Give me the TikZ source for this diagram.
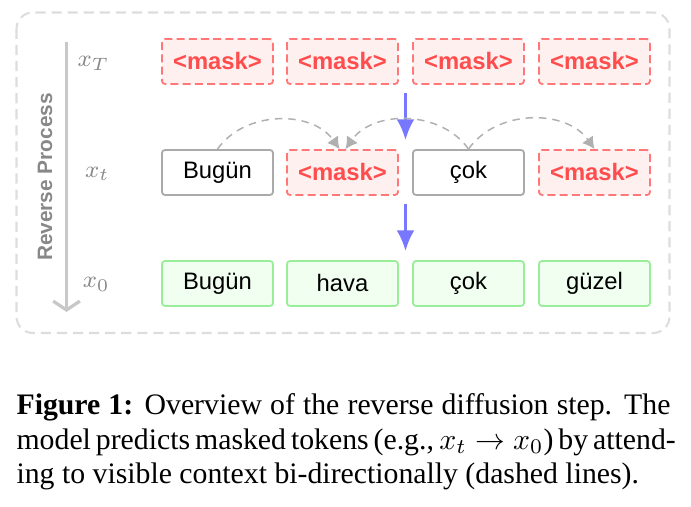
\documentclass[tikz,border=0pt]{standalone}
\usepackage{fontspec}
\setmainfont{Liberation Serif}
\setsansfont{Liberation Sans}
\usetikzlibrary{arrows.meta,calc}
\definecolor{MaskRed}{HTML}{FF4D4D}
\definecolor{MaskEdge}{HTML}{FF7777}
\definecolor{MaskFill}{HTML}{FFF0F0}
\definecolor{KeepEdge}{HTML}{AAAAAA}
\definecolor{DoneEdge}{HTML}{99EE99}
\definecolor{DoneFill}{HTML}{F0FFF0}
\definecolor{StepBlue}{HTML}{7777FF}
\definecolor{Attend}{HTML}{B0B0B0}
\definecolor{FrameGray}{HTML}{DDDDDD}
\definecolor{AxisGray}{HTML}{C8C8C8}
\definecolor{LabelGray}{HTML}{888888}

\begin{document}
\begin{tikzpicture}[x=0.336pt,y=-0.336pt,
  tok/.style={rounded corners=1pt,line width=0.6pt,minimum width=37.3pt,minimum height=15.1pt,inner sep=0pt,font=\sffamily\fontsize{8}{9.6}\selectfont},
  masktok/.style={tok,draw=MaskEdge,fill=MaskFill,dash pattern=on 2.7pt off 1.4pt,text=MaskRed,font=\sffamily\bfseries\fontsize{8}{9.6}\selectfont},
  keeptok/.style={tok,draw=KeepEdge,fill=white},
  donetok/.style={tok,draw=DoneEdge,fill=DoneFill},
  steplbl/.style={anchor=east,inner sep=0pt,text=LabelGray,font=\fontsize{8}{9.6}\selectfont},
  flow/.style={StepBlue,line width=1pt,-{Latex[length=7pt,width=6pt]},shorten <=2.7pt,shorten >=3pt},
  attend/.style={Attend,dash pattern=on 2.5pt off 2pt,line width=0.5pt,-{Latex[length=4pt,width=4.5pt]},bend left=55}
]
  \useasboundingbox (0,0) rectangle (691,507);
  \draw[FrameGray,line width=0.7pt,dash pattern=on 3.4pt off 2pt,rounded corners=5.5pt] (16.5,12.5) rectangle (669.5,333);
  % time axis
  \draw[AxisGray,line width=1.1pt,-{Straight Barb[length=3pt,width=9pt]}] (66.5,42) -- (66.5,312);
  \node[rotate=90,text=LabelGray,font=\sffamily\bfseries\fontsize{7}{8}\selectfont] (rev) at (45,177) {Reverse Process};
  \node[steplbl] (lT) at (110,63) {$x_T$};
  \node[steplbl] (lt) at (110,173.5) {$x_t$};
  \node[steplbl] (l0) at (110,284.5) {$x_0$};
  % tokens
  \foreach \i/\x in {1/217.5,2/342.5,3/468.5,4/594.5}
    \node[masktok] (xT-\i) at (\x,61.5) {<mask>};
  \node[keeptok] (xt-1) at (217.5,172.5) {Bugün};
  \node[masktok] (xt-2) at (342.5,172.5) {<mask>};
  \node[keeptok] (xt-3) at (468.5,172.5) {çok};
  \node[masktok] (xt-4) at (594.5,172.5) {<mask>};
  \foreach \i/\x/\w in {1/217.5/Bugün,2/342.5/hava,3/468.5/çok,4/594.5/güzel}
    \node[donetok] (x0-\i) at (\x,283.5) {\w};
  % denoising steps
  \coordinate (gapT) at ($(xT-2.south east)!0.5!(xT-3.south west)$);
  \coordinate (gapt) at ($(xt-2.south east)!0.5!(xt-3.south west)$);
  \draw[flow] (gapT) -- (gapT |- xt-2.north);
  \draw[flow] (gapt) -- (gapt |- x0-2.north);
  % bi-directional context
  \draw[attend] (xt-1.north) to ([xshift=-1pt]xt-2.north);
  \draw[attend,bend right=55] (xt-3.north) to ([xshift=1pt]xt-2.north);
  \draw[attend] (xt-3.north) to (xt-4.north);
  \node[anchor=north west,inner sep=0pt,align=left,font=\fontsize{10}{11.6}\selectfont] (cap) at (16,393)
    {\makebox[219.7pt][s]{\textbf{Figure 1:} Overview of the reverse diffusion step. The}\\
     \makebox[219.7pt][s]{model predicts masked tokens (e.g., $x_t \rightarrow x_0$) by attend-}\\
     ing to visible context bi-directionally (dashed lines).};
\end{tikzpicture}
\end{document}
